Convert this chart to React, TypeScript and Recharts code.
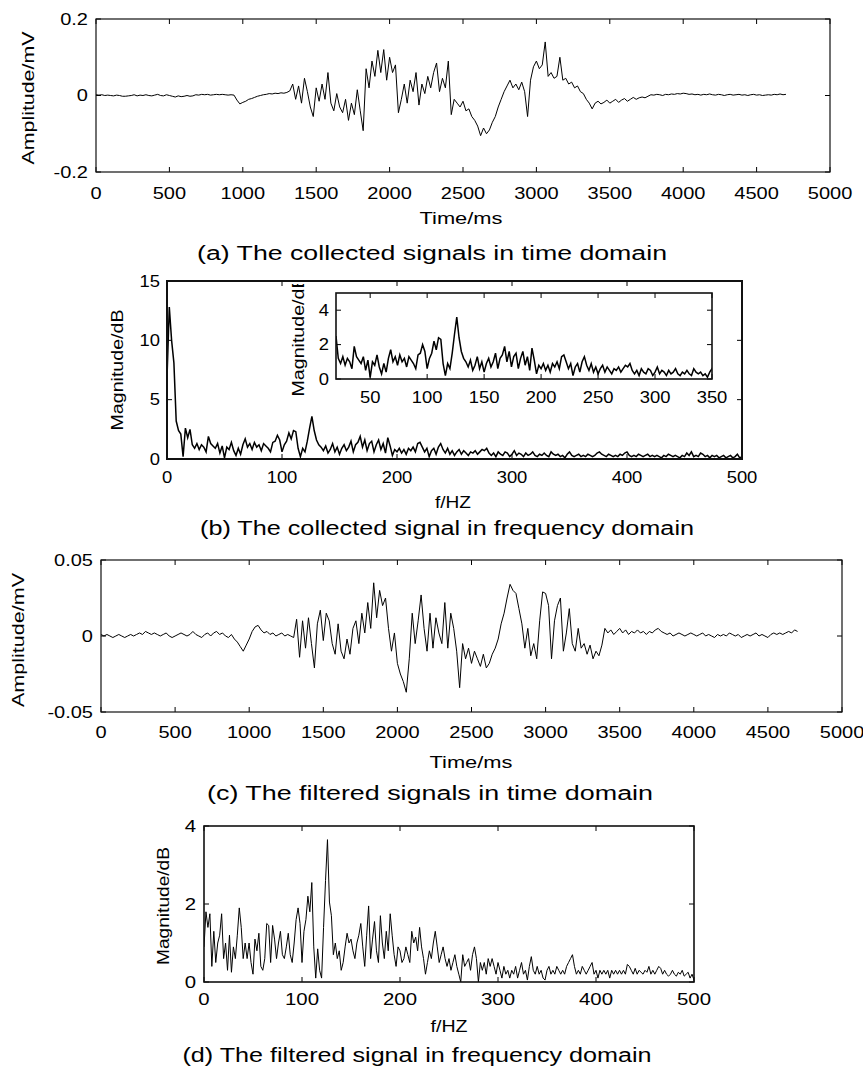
import { LineChart, Line, XAxis, YAxis } from "recharts";

const FONT = '"Liberation Sans", Arial, sans-serif';

// sample spacing of the traces
const STEP_MS = 20;
const STEP_HZ = 2;

// (a) collected signal, mV, every 20 ms from 0 to 4700
const RAW_AMP = [
  0.002, 0.001, 0.002, 0.0, 0.001, 0.0, -0.001, 0.001, 0.0, -0.002,
  -0.002, -0.001, 0.0, 0.002, -0.001, 0.001, 0.0, 0.002, 0.0, -0.001,
  0.001, 0.003, 0.0, -0.001, 0.002, 0.0, -0.002, -0.004, -0.001, -0.003,
  -0.002, 0.0, -0.002, -0.001, 0.002, 0.001, 0.003, 0.002, 0.003, 0.001,
  0.002, 0.003, 0.002, 0.003, 0.002, 0.001, 0.002, 0.001, -0.012, -0.022,
  -0.018, -0.015, -0.01, -0.008, -0.005, -0.002, 0.0, 0.002, 0.003, 0.005,
  0.004, 0.006, 0.005, 0.007, 0.006, 0.008, 0.012, 0.03, -0.01, 0.025,
  -0.02, 0.045, 0.01, -0.03, -0.055, 0.02, -0.015, 0.03, -0.01, 0.06,
  -0.02, -0.04, 0.005, -0.03, -0.045, -0.01, -0.065, -0.02, -0.05, 0.015,
  -0.04, -0.092, 0.07, 0.02, 0.09, 0.05, 0.118, 0.06, 0.12, 0.04,
  0.1, 0.06, 0.08, -0.045, -0.01, 0.03, -0.02, 0.04, 0.01, 0.06,
  -0.025, 0.03, 0.005, 0.05, 0.02, 0.06, 0.085, 0.01, 0.045, 0.02,
  0.09, -0.05, -0.01, -0.02, -0.03, -0.015, -0.04, -0.035, -0.055, -0.065,
  -0.08, -0.105, -0.085, -0.1, -0.09, -0.07, -0.055, -0.03, -0.01, 0.01,
  0.025, 0.04, 0.02, 0.03, 0.015, 0.035, 0.01, -0.055, 0.04, 0.075,
  0.09, 0.07, 0.08, 0.14, 0.05, 0.06, 0.045, 0.05, 0.1, 0.04,
  0.045, 0.03, 0.035, 0.02, 0.025, 0.01, 0.005, -0.01, -0.02, -0.035,
  -0.02, -0.015, -0.022, -0.018, -0.012, -0.02, -0.015, -0.01, -0.018, -0.012,
  -0.008, -0.015, -0.01, -0.005, -0.01, -0.006, -0.004, -0.006, -0.002, 0.002,
  0.001, 0.003, 0.002, 0.0, 0.003, 0.002, 0.004, 0.003, 0.005, 0.004,
  0.006, 0.005, 0.003, 0.004, 0.002, 0.003, 0.001, 0.003, 0.002, 0.004,
  0.002, 0.001, 0.003, 0.002, 0.0, 0.002, 0.003, 0.001, 0.002, 0.003,
  0.001, 0.002, 0.0, 0.002, 0.003, 0.001, 0.002, 0.0, 0.001, 0.002,
  0.001, 0.003, 0.002, 0.004, 0.002, 0.003,
];

// (b) spectrum of collected signal, dB, every 2 Hz from 0 to 500
const RAW_MAG = [
  6.8, 12.8, 10.0, 8.1, 3.2, 2.4, 2.1, 0.2, 2.6, 1.8,
  2.5, 1.2, 0.9, 1.3, 0.8, 1.2, 1.0, 0.6, 1.9, 1.3,
  1.1, 0.9, 1.3, 0.5, 1.1, 0.1, 1.0, 0.8, 1.4, 0.7,
  0.3, 0.9, 0.4, 1.2, 1.7, 1.0, 1.3, 0.8, 1.4, 1.0,
  1.2, 0.7, 1.3, 1.1, 0.9, 0.6, 1.4, 1.5, 2.0, 1.6,
  0.6, 1.2, 1.5, 2.2, 1.7, 2.4, 2.3, 0.9, 0.2, 0.9,
  0.6, 1.5, 2.6, 3.6, 2.4, 1.6, 1.2, 1.0, 0.7, 1.1,
  0.5, 0.8, 1.3, 0.6, 1.0, 0.4, 0.9, 1.2, 0.7, 1.0,
  1.5, 0.6, 1.2, 1.4, 1.9, 1.0, 1.6, 0.7, 1.3, 1.5,
  0.6, 1.2, 1.6, 0.8, 1.3, 0.5, 1.8, 1.1, 0.3, 0.8,
  0.6, 0.9, 0.5, 0.8, 0.4, 0.9, 0.7, 1.0, 0.6, 1.3,
  1.4, 1.0, 0.6, 0.9, 0.2, 0.7, 0.9, 0.4, 1.0, 1.3,
  0.8, 0.5, 0.9, 0.4, 0.7, 0.3, 0.6, 0.8, 0.4, 0.7,
  0.5, 0.3, 0.6, 0.5, 0.7, 0.4, 0.6, 0.8, 0.7, 0.9,
  0.5, 0.3, 0.5, 0.2, 0.6, 0.4, 0.3, 0.6, 0.5, 0.2,
  0.4, 0.7, 0.3, 0.5, 0.4, 0.2, 0.5, 0.3, 0.4, 0.6,
  0.3, 0.2, 0.4, 0.3, 0.5, 0.3, 0.2, 0.6, 0.4, 0.3,
  0.4, 0.2, 0.3, 0.1, 0.4, 0.6, 0.3, 0.2, 0.3, 0.4,
  0.2, 0.3, 0.2, 0.4, 0.3, 0.2, 0.3, 0.5, 0.6, 0.4,
  0.3, 0.2, 0.4, 0.3, 0.2, 0.3, 0.2, 0.4, 0.3, 0.5,
  0.6, 0.3, 0.2, 0.3, 0.2, 0.4, 0.3, 0.2, 0.3, 0.4,
  0.2, 0.3, 0.2, 0.3, 0.2, 0.1, 0.3, 0.2, 0.4, 0.3,
  0.2, 0.3, 0.2, 0.1, 0.3, 0.2, 0.5, 0.3, 0.6, 0.2,
  0.3, 0.2, 0.5, 0.4, 0.2, 0.3, 0.1, 0.3, 0.2, 0.3,
  0.1, 0.2, 0.3, 0.1, 0.2, 0.3, 0.1, 0.2, 0.4, 0.1,
  0.2,
];

// (c) filtered signal, mV, every 20 ms from 0 to 4700
const FILT_AMP = [
  0.001, 0.0, 0.001, 0.0, -0.001, 0.0, 0.001, 0.0, -0.001, 0.0,
  0.001, 0.0, 0.001, 0.002, 0.001, 0.003, 0.002, 0.001, 0.002, 0.001,
  0.0, 0.001, 0.002, 0.0, -0.001, 0.0, 0.001, 0.002, 0.001, 0.0,
  0.001, 0.003, 0.001, 0.0, -0.001, 0.001, 0.002, 0.0, 0.002, 0.003,
  0.001, 0.002, 0.0, -0.001, 0.001, -0.002, -0.004, -0.007, -0.01, -0.006,
  -0.002, 0.003, 0.006, 0.007, 0.004, 0.002, 0.003, 0.001, 0.002, 0.0,
  0.001, 0.002, 0.0, 0.001, 0.0, -0.001, 0.011, -0.014, 0.01, -0.008,
  0.012, -0.005, -0.021, 0.008, 0.017, -0.003, 0.015, 0.01, -0.005, -0.012,
  0.008, -0.01, -0.015, -0.002, -0.012, 0.005, 0.01, -0.005, 0.015, 0.002,
  0.022, 0.005, 0.035, 0.012, 0.03, 0.02, 0.025, 0.005, -0.01, 0.002,
  -0.018, -0.025, -0.03, -0.037, -0.015, 0.015, -0.005, 0.01, 0.027, 0.005,
  -0.01, 0.015, -0.008, 0.012, 0.002, -0.005, 0.022, -0.008, 0.015, 0.005,
  -0.01, -0.034, -0.005, -0.015, -0.008, -0.018, -0.01, -0.015, -0.02, -0.012,
  -0.021, -0.018, -0.012, -0.008, -0.002, 0.008, 0.015, 0.025, 0.034, 0.03,
  0.028, 0.018, 0.008, -0.008, 0.005, -0.013, -0.005, -0.015, 0.01, 0.029,
  0.028, 0.02, -0.015, 0.01, 0.02, 0.025, -0.01, 0.002, 0.018, -0.005,
  -0.01, 0.005, -0.008, -0.005, -0.012, -0.006, -0.015, -0.01, -0.013, -0.006,
  0.005, 0.002, 0.004, 0.001, 0.003, 0.005, 0.002, 0.004, 0.001, 0.003,
  0.002, 0.004, 0.002, 0.003, 0.001, 0.003, 0.002, 0.004, 0.005, 0.003,
  0.002, 0.001, 0.002, 0.0, 0.001, 0.002, 0.001, 0.0, 0.001, 0.002,
  0.001, 0.0, 0.001, 0.002, 0.0, 0.001, 0.0, -0.001, 0.001, 0.0,
  0.001, 0.0, 0.002, 0.001, 0.0, 0.001, -0.001, 0.0, 0.001, 0.0,
  0.001, 0.002, 0.0, 0.001, 0.0, -0.001, 0.001, 0.002, 0.001, 0.002,
  0.001, 0.002, 0.003, 0.002, 0.004, 0.003,
];

// (d) spectrum of filtered signal, dB, every 2 Hz from 0 to 500
const FILT_MAG = [
  0.9, 1.8, 1.4, 1.75, 0.4, 1.3, 0.5, 1.0, 1.2, 1.75,
  0.6, 1.0, 0.3, 1.2, 0.25, 0.9, 0.6, 1.2, 1.9, 1.4,
  0.6, 1.0, 0.6, 1.0, 0.5, 0.2, 1.1, 0.8, 1.25, 0.4,
  0.3, 0.6, 1.5, 1.45, 0.5, 1.45, 1.1, 0.6, 1.0, 1.3,
  0.7, 0.6, 0.9, 1.25, 0.7, 0.5, 1.0, 1.6, 1.9, 1.5,
  0.5, 1.3, 1.6, 2.2, 1.8, 2.55, 0.9, 0.1, 0.85, 0.3,
  0.1, 1.4, 2.6, 3.65, 2.05, 1.7, 0.7, 1.0, 0.6, 0.8,
  0.3, 0.5, 0.9, 1.25, 1.0, 1.1, 0.8, 0.6, 1.0, 1.2,
  1.5, 0.9, 0.4, 1.2, 1.95, 0.6, 1.1, 1.55, 0.8, 0.5,
  1.7, 1.0, 0.6, 1.3, 0.8, 1.75, 1.2, 0.7, 0.4, 0.9,
  0.8, 0.5, 0.6, 0.9, 0.7, 0.5, 1.3, 1.0, 1.15, 0.8,
  1.4, 0.9, 0.6, 0.2, 0.5, 0.8, 0.6, 1.0, 1.3, 0.9,
  0.5, 0.7, 0.9, 0.6, 0.4, 0.6, 0.3, 0.5, 0.7, 0.4,
  0.2, 0.0, 0.7, 0.4, 0.5, 0.6, 0.3, 0.7, 0.9, 0.6,
  0.0, 0.5, 0.3, 0.5, 0.2, 0.6, 0.4, 0.6, 0.4, 0.2,
  0.5, 0.3, 0.1, 0.4, 0.2, 0.3, 0.1, 0.3, 0.2, 0.4,
  0.1, 0.3, 0.5, 0.2, 0.3, 0.05, 0.4, 0.65, 0.3, 0.2,
  0.4, 0.2, 0.3, 0.1, 0.05, 0.3, 0.4, 0.2, 0.3, 0.2,
  0.4, 0.3, 0.2, 0.3, 0.2, 0.4, 0.5, 0.6, 0.7, 0.4,
  0.2, 0.3, 0.2, 0.4, 0.3, 0.2, 0.3, 0.4, 0.5, 0.2,
  0.3, 0.1, 0.3, 0.2, 0.3, 0.2, 0.3, 0.1, 0.3, 0.2,
  0.3, 0.2, 0.3, 0.2, 0.3, 0.2, 0.45, 0.4, 0.3, 0.2,
  0.35, 0.2, 0.3, 0.25, 0.2, 0.3, 0.25, 0.4, 0.2, 0.3,
  0.2, 0.3, 0.4, 0.35, 0.2, 0.3, 0.2, 0.15, 0.2, 0.3,
  0.2, 0.15, 0.25, 0.2, 0.3, 0.15, 0.2, 0.25, 0.1, 0.2,
  0.05,
];

const TIME_TICKS = [0, 500, 1000, 1500, 2000, 2500, 3000, 3500, 4000, 4500, 5000];
const FREQ_TICKS = [0, 100, 200, 300, 400, 500];
const INSET_TICKS = [50, 100, 150, 200, 250, 300, 350];
const RAW_AMP_TICKS = [-0.2, 0, 0.2];
const FILT_AMP_TICKS = [-0.05, 0, 0.05];
const RAW_MAG_TICKS = [0, 5, 10, 15];
const INSET_MAG_TICKS = [0, 2, 4];
const FILT_MAG_TICKS = [0, 2, 4];

const toSeries = (vals: number[], step: number) => vals.map((v, i) => ({ x: i * step, y: v }));

type Box = { left: number; top: number; w: number; h: number };

const BOX_A: Box = { left: 96, top: 19, w: 734, h: 153 };
const BOX_B: Box = { left: 167, top: 281, w: 575, h: 178 };
const BOX_IN: Box = { left: 336, top: 293, w: 376, h: 86 };
const BOX_C: Box = { left: 101, top: 560, w: 741, h: 152 };
const BOX_D: Box = { left: 204, top: 826, w: 490, h: 156 };

interface PanelProps {
  box: Box;
  data: { x: number; y: number }[];
  xDomain: [number, number];
  yDomain: [number, number];
  xTicks: number[];
  yTicks: number[];
  font: number;
  sx: number;
  xDy: number;
  yGap: number;
  lineW: number;
}

const PAD_L = 70;
const PAD_T = 10;
const PAD_R = 30;
const PAD_B = 40;
const TICK = 5;

const Panel = ({ box, data, xDomain, yDomain, xTicks, yTicks, font, sx, xDy, yGap, lineW }: PanelProps) => {
  const W = box.w + PAD_L + PAD_R;
  const H = box.h + PAD_T + PAD_B;
  const right = PAD_L + box.w;

  const xTick = (p: any) => (
    <g>
      <line x1={p.x} x2={p.x} y1={p.y} y2={p.y - TICK} stroke="#000" />
      <line x1={p.x} x2={p.x} y1={PAD_T} y2={PAD_T + TICK} stroke="#000" />
      <text
        transform={`translate(${p.x},${p.y + xDy}) scale(${sx},1)`}
        textAnchor="middle"
        fontSize={font}
        fontFamily={FONT}
        fill="#000"
      >
        {String(p.payload.value)}
      </text>
    </g>
  );

  const yTick = (p: any) => (
    <g>
      <line x1={p.x} x2={p.x + TICK} y1={p.y} y2={p.y} stroke="#000" />
      <line x1={right - TICK} x2={right} y1={p.y} y2={p.y} stroke="#000" />
      <text
        transform={`translate(${p.x - yGap},${p.y + font * 0.36}) scale(${sx},1)`}
        textAnchor="end"
        fontSize={font}
        fontFamily={FONT}
        fill="#000"
      >
        {String(p.payload.value)}
      </text>
    </g>
  );

  return (
    <div style={{ position: "absolute", left: box.left - PAD_L, top: box.top - PAD_T }}>
      <LineChart width={W} height={H} data={data} margin={{ top: PAD_T, right: PAD_R, left: 0, bottom: 0 }}>
        <XAxis
          dataKey="x"
          type="number"
          domain={xDomain}
          ticks={xTicks}
          interval={0}
          tick={xTick}
          tickLine={false}
          axisLine={false}
          tickSize={0}
          tickMargin={0}
          height={PAD_B}
          allowDataOverflow
        />
        <YAxis
          type="number"
          domain={yDomain}
          ticks={yTicks}
          interval={0}
          tick={yTick}
          tickLine={false}
          axisLine={false}
          tickSize={0}
          tickMargin={0}
          width={PAD_L}
          allowDataOverflow
        />
        <Line dataKey="y" type="linear" stroke="#000" strokeWidth={lineW} dot={false} isAnimationActive={false} />
      </LineChart>
    </div>
  );
};

const Frame = ({ box, w }: { box: Box; w: number }) => (
  <rect x={box.left} y={box.top} width={box.w} height={box.h} fill="none" stroke="#111" strokeWidth={w} />
);

const VLabel = ({ x, cy, len, text, size }: { x: number; cy: number; len: number; text: string; size: number }) => (
  <text
    transform={`translate(${x},${cy}) rotate(-90)`}
    textAnchor="middle"
    fontSize={size}
    fontFamily={FONT}
    textLength={len}
    lengthAdjust="spacingAndGlyphs"
    fill="#000"
  >
    {text}
  </text>
);

const HText = ({ cx, y, len, text, size }: { cx: number; y: number; len: number; text: string; size: number }) => (
  <text x={cx} y={y} textAnchor="middle" fontSize={size} fontFamily={FONT} textLength={len} lengthAdjust="spacingAndGlyphs" fill="#000">
    {text}
  </text>
);

export default function App() {
  const rawAmp = toSeries(RAW_AMP, STEP_MS);
  const filtAmp = toSeries(FILT_AMP, STEP_MS);
  const rawMag = toSeries(RAW_MAG, STEP_HZ);
  const filtMag = toSeries(FILT_MAG, STEP_HZ);

  return (
    <div style={{ position: "absolute", left: 0, top: 0, width: 863, height: 1070, background: "#fff" }}>
      <Panel box={BOX_A} data={rawAmp} xDomain={[0, 5000]} yDomain={[-0.2, 0.2]} xTicks={TIME_TICKS} yTicks={RAW_AMP_TICKS}
        font={16} sx={1.25} xDy={27} yGap={8} lineW={1} />
      <Panel box={BOX_B} data={rawMag} xDomain={[0, 500]} yDomain={[0, 15]} xTicks={FREQ_TICKS} yTicks={RAW_MAG_TICKS}
        font={16} sx={1.15} xDy={24} yGap={7} lineW={1.5} />
      <Panel box={BOX_IN} data={rawMag} xDomain={[20, 350]} yDomain={[0, 5]} xTicks={INSET_TICKS} yTicks={INSET_MAG_TICKS}
        font={16} sx={1.15} xDy={24} yGap={7} lineW={1.5} />
      <Panel box={BOX_C} data={filtAmp} xDomain={[0, 5000]} yDomain={[-0.05, 0.05]} xTicks={TIME_TICKS} yTicks={FILT_AMP_TICKS}
        font={16} sx={1.25} xDy={26} yGap={8} lineW={1} />
      <Panel box={BOX_D} data={filtMag} xDomain={[0, 500]} yDomain={[0, 4]} xTicks={FREQ_TICKS} yTicks={FILT_MAG_TICKS}
        font={17} sx={1.2} xDy={23} yGap={8} lineW={1} />

      <svg width={863} height={1070} style={{ position: "absolute", left: 0, top: 0, pointerEvents: "none" }}>
        <defs>
          <clipPath id="insetLabelClip">
            <rect x={280} y={284} width={40} height={130} />
          </clipPath>
        </defs>
        <Frame box={BOX_A} w={1.2} />
        <Frame box={BOX_B} w={2} />
        <Frame box={BOX_IN} w={1.6} />
        <Frame box={BOX_C} w={1.2} />
        <Frame box={BOX_D} w={1.6} />

        <VLabel x={34} cy={98} len={133} text="Amplitude/mV" size={17} />
        <HText cx={461} y={224} len={83} text="Time/ms" size={16} />
        <HText cx={432} y={260} len={470} text="(a) The collected signals in time domain" size={20} />

        <VLabel x={123} cy={370} len={121} text="Magnitude/dB" size={16} />
        <g clipPath="url(#insetLabelClip)">
          <VLabel x={304} cy={336} len={121} text="Magnitude/dB" size={16} />
        </g>
        <HText cx={453} y={508} len={36} text="f/HZ" size={16} />
        <HText cx={447} y={535} len={494} text="(b) The collected signal in frequency domain" size={20} />

        <VLabel x={24} cy={640} len={134} text="Amplitude/mV" size={17} />
        <HText cx={471} y={768} len={83} text="Time/ms" size={16} />
        <HText cx={430} y={800} len={446} text="(c) The filtered signals in time domain" size={20} />

        <VLabel x={169} cy={906} len={118} text="Magnitude/dB" size={16} />
        <HText cx={449} y={1032} len={37} text="f/HZ" size={16} />
        <HText cx={417} y={1062} len={469} text="(d) The filtered signal in frequency domain" size={20} />
      </svg>
    </div>
  );
}
